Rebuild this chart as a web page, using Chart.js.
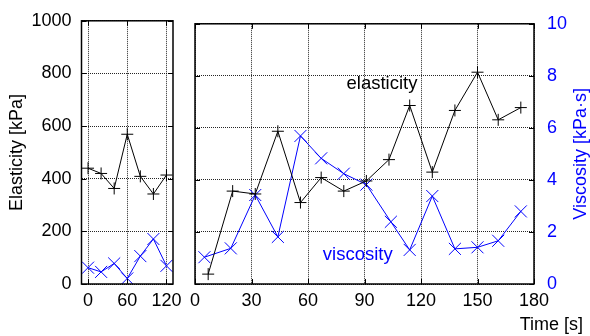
<!DOCTYPE html>
<html>
<head>
<meta charset="utf-8">
<script src="https://cdn.jsdelivr.net/npm/chart.js@4/dist/chart.umd.min.js"></script>
<style>
  html, body { margin: 0; padding: 0; background: #fff; }
  #wrap { position: relative; width: 590px; height: 336px; }
  #wrap canvas { position: absolute; left: 0; top: 0; }
</style>
</head>
<body>
<div id="wrap">
  <canvas id="c1" width="590" height="336"></canvas>
  <canvas id="c2" width="590" height="336"></canvas>
</div>
<script>
// ---- data ----
const leftTime = [0, 20, 40, 60, 80, 100, 120];
const leftElasticity = [440, 420, 363, 569, 409, 342, 414];
const leftViscosity = [0.62, 0.46, 0.78, 0.21, 1.06, 1.71, 0.69];

const rightTimeE = [7, 20, 32, 44, 56, 67, 79, 91, 103, 114, 126, 138, 150, 161, 173];
const rightElasticity = [38, 357, 346, 587, 313, 409, 357, 396, 478, 686, 430, 667, 814, 631, 678];
const rightTimeV = [5, 19, 32, 44, 56, 67, 79, 91, 104, 114, 126, 138, 150, 161, 173];
const rightViscosity = [1.03, 1.37, 3.42, 1.81, 5.69, 4.83, 4.24, 3.82, 2.39, 1.31, 3.38, 1.35, 1.41, 1.66, 2.79];

const elasticityTicks = [0, 200, 400, 600, 800, 1000];
const viscosityTicks = [0, 2, 4, 6, 8, 10];
const leftTimeTicks = [0, 60, 120];
const rightTimeTicks = [0, 30, 60, 90, 120, 150, 180];

// ---- style ----
const FONT = '"Liberation Sans", Arial, Helvetica, sans-serif';
const BLUE = '#0000ff';
const GRID = { color: 'rgba(0,0,0,0.85)', lineWidth: 1, drawTicks: false };
const BORDER = { display: false, dash: [1, 1] };
const plain = v => String(v);

function pts(xs, ys) { return xs.map((x, i) => ({ x: x, y: ys[i] })); }
function setTicks(arr) { return s => { s.ticks = arr.map(v => ({ value: v })); }; }

function elasticityDataset(xs, ys) {
  return {
    data: pts(xs, ys), yAxisID: 'y',
    borderColor: '#000', borderWidth: 1, tension: 0, fill: false,
    pointStyle: 'cross', pointRadius: 6, pointBorderColor: '#000', pointBorderWidth: 1,
    pointBackgroundColor: '#000'
  };
}
function viscosityDataset(xs, ys) {
  return {
    data: pts(xs, ys), yAxisID: 'yv',
    borderColor: BLUE, borderWidth: 1, tension: 0, fill: false,
    pointStyle: 'crossRot', pointRadius: 8.5, pointBorderColor: BLUE, pointBorderWidth: 1,
    pointBackgroundColor: BLUE
  };
}

function framePlugin(extra) {
  return {
    id: 'frame',
    afterDraw(chart) {
      const ctx = chart.ctx, a = chart.chartArea;
      ctx.save();
      ctx.strokeStyle = '#000';
      ctx.lineWidth = 1.5;
      ctx.setLineDash([]);
      ctx.strokeRect(a.left, a.top, a.right - a.left, a.bottom - a.top);
      // inward ticks
      ctx.lineWidth = 1;
      const L = 5;
      const xs = chart.scales.x;
      ctx.beginPath();
      xs.ticks.forEach(t => {
        const px = Math.round(xs.getPixelForValue(t.value)) + 0.5;
        ctx.moveTo(px, a.bottom); ctx.lineTo(px, a.bottom - L);
        ctx.moveTo(px, a.top); ctx.lineTo(px, a.top + L);
      });
      const ys = chart.scales.y;
      elasticityTicks.forEach(v => {
        const py = Math.round(ys.getPixelForValue(v)) + 0.5;
        ctx.moveTo(a.left, py); ctx.lineTo(a.left + L, py);
        ctx.moveTo(a.right, py); ctx.lineTo(a.right - L, py);
      });
      ctx.stroke();
      if (extra) extra(chart, ctx, a);
      ctx.restore();
    }
  };
}

function baseOptions(pad) {
  return {
    responsive: false, animation: false, devicePixelRatio: 1,
    layout: { padding: pad },
    plugins: { legend: { display: false }, tooltip: { enabled: false } },
    elements: { line: { borderCapStyle: 'butt' } }
  };
}

// ---- left panel ----
const opt1 = baseOptions({ left: 0, top: 19, right: 417, bottom: 22 });
opt1.scales = {
  x: {
    type: 'linear', min: -10, max: 130,
    afterBuildTicks: setTicks(leftTimeTicks),
    afterFit: s => { s.height = 30; },
    grid: GRID, border: BORDER,
    ticks: { color: '#000', font: { family: FONT, size: 18 }, padding: 6, maxRotation: 0, autoSkip: false, callback: plain }
  },
  y: {
    type: 'linear', position: 'left', min: 0, max: 1000,
    afterBuildTicks: setTicks(elasticityTicks),
    afterFit: s => { s.width = 81.5; },
    grid: GRID, border: BORDER,
    ticks: { color: '#000', font: { family: FONT, size: 18 }, padding: 10, callback: plain }
  },
  yv: { type: 'linear', display: false, min: 0, max: 10 }
};
new Chart(document.getElementById('c1'), {
  type: 'line',
  data: { datasets: [elasticityDataset(leftTime, leftElasticity), viscosityDataset(leftTime, leftViscosity)] },
  options: opt1,
  plugins: [framePlugin((chart, ctx, a) => {
    ctx.font = '18px ' + FONT;
    ctx.fillStyle = '#000';
    ctx.textAlign = 'center';
    ctx.textBaseline = 'middle';
    ctx.translate(17, (a.top + a.bottom) / 2);
    ctx.rotate(-Math.PI / 2);
    ctx.fillText('Elasticity [kPa]', 0, 0);
  })]
});

// ---- right panel ----
const opt2 = baseOptions({ left: 195, top: 19, right: 0, bottom: 22 });
opt2.scales = {
  x: {
    type: 'linear', min: 0, max: 180,
    afterBuildTicks: setTicks(rightTimeTicks),
    afterFit: s => { s.height = 30; },
    grid: GRID, border: BORDER,
    ticks: { color: '#000', font: { family: FONT, size: 18 }, padding: 6, maxRotation: 0, autoSkip: false, callback: plain }
  },
  y: { type: 'linear', display: false, min: 0, max: 1000 },
  yv: {
    type: 'linear', position: 'right', min: 0, max: 10,
    afterBuildTicks: setTicks(viscosityTicks),
    afterFit: s => { s.width = 56; },
    grid: GRID, border: BORDER,
    ticks: { color: BLUE, font: { family: FONT, size: 18 }, padding: 13, callback: plain }
  }
};
new Chart(document.getElementById('c2'), {
  type: 'line',
  data: { datasets: [elasticityDataset(rightTimeE, rightElasticity), viscosityDataset(rightTimeV, rightViscosity)] },
  options: opt2,
  plugins: [framePlugin((chart, ctx, a) => {
    const xs = chart.scales.x, ys = chart.scales.y, yv = chart.scales.yv;
    ctx.font = '18.5px ' + FONT;
    ctx.textAlign = 'center';
    ctx.textBaseline = 'middle';
    ctx.fillStyle = '#000';
    ctx.fillText('elasticity', xs.getPixelForValue(99.3), ys.getPixelForValue(770));
    ctx.fillStyle = BLUE;
    ctx.fillText('viscosity', xs.getPixelForValue(86.4), yv.getPixelForValue(1.12));
    ctx.font = '18px ' + FONT;
    ctx.fillStyle = '#000';
    ctx.textAlign = 'right';
    ctx.fillText('Time [s]', 583, 325);
    ctx.fillStyle = BLUE;
    ctx.textAlign = 'center';
    ctx.translate(581, (a.top + a.bottom) / 2);
    ctx.rotate(-Math.PI / 2);
    ctx.fillText('Viscosity [kPa\u00B7s]', 0, 0);
  })]
});
</script>
</body>
</html>
